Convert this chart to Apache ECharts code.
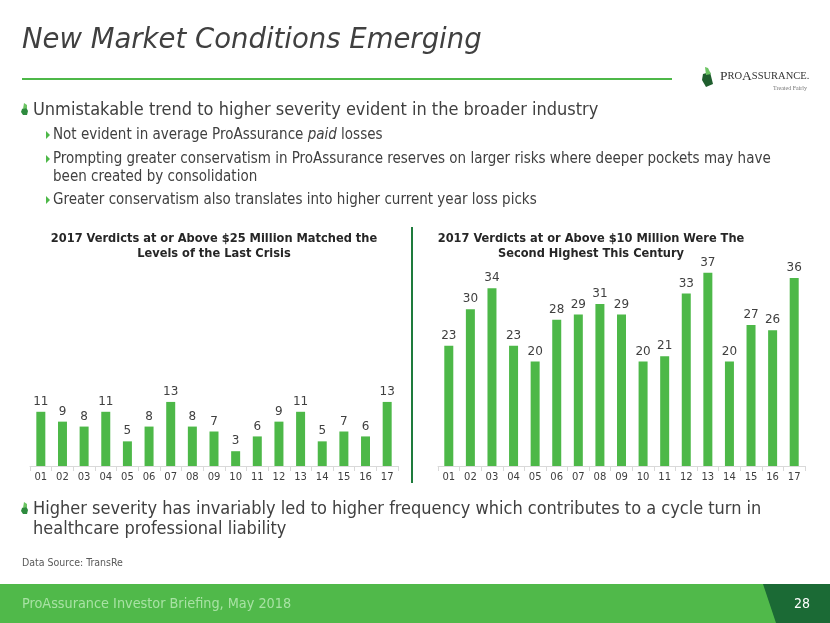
<!DOCTYPE html>
<html>
<head>
<meta charset="utf-8">
<script src="https://cdn.jsdelivr.net/npm/echarts@6/dist/echarts.min.js"></script>
<style>
html,body{margin:0;padding:0;background:#fff;}
#c{width:830px;height:623px;}
</style>
</head>
<body>
<div id="c"></div>
<script>
// ---- data ----
var years = ['01','02','03','04','05','06','07','08','09','10','11','12','13','14','15','16','17'];
var verdicts25M = [11,9,8,11,5,8,13,8,7,3,6,9,11,5,7,6,13];
var verdicts10M = [23,30,34,23,20,28,29,31,29,20,21,33,37,20,27,26,36];
var chartTitles = [
  '2017 Verdicts at or Above $25 Million Matched the\nLevels of the Last Crisis',
  '2017 Verdicts at or Above $10 Million Were The\nSecond Highest This Century'
];

var GREEN = '#4DB848';
var TEXT = '#404040';
var BODY = '"DejaVu Sans Condensed","DejaVu Sans",sans-serif';

var chart = echarts.init(document.getElementById('c'), null, {renderer:'canvas'});

function xAxisFor(i){
  return {
    type:'category', gridIndex:i, data:years,
    axisLine:{lineStyle:{color:'#D9D9D9', width:1}},
    axisTick:{show:true, length:5, lineStyle:{color:'#D9D9D9'}},
    axisLabel:{color:TEXT, fontSize:10, fontFamily:'"DejaVu Sans",sans-serif', margin:6}
  };
}
function yAxisFor(i, max){
  return {type:'value', gridIndex:i, min:0, max:max, show:false, splitLine:{show:false}};
}
function seriesFor(i, data){
  return {
    type:'bar', xAxisIndex:i, yAxisIndex:i, data:data, barWidth:9,
    itemStyle:{color:GREEN},
    label:{show:true, position:'top', distance:4, color:TEXT, fontSize:12, fontFamily:'"DejaVu Sans",sans-serif'}
  };
}

function txt(x, y, text, size, opts){
  opts = opts || {};
  return {
    type:'text', x:x, y:y,
    style:{
      text:text, fill:opts.color||TEXT, fontSize:size,
      fontFamily:opts.font||BODY, fontStyle:opts.italic?'italic':'normal',
      fontWeight:opts.bold?'bold':'normal',
      textAlign:opts.align||'left', textVerticalAlign:'middle'
    },
    z:10
  };
}
function leafBody(cx, cy){
  return {type:'polygon', shape:{points:[[cx-3,cy-1],[cx+1,cy-3],[cx+3,cy+1],[cx+2,cy+5],[cx-2,cy+5],[cx-4,cy+2]]}, style:{fill:'#2E8B3E'}};
}
function leafTip(cx, cy){
  return {type:'polygon', shape:{points:[[cx-1,cy-7],[cx+2,cy-5],[cx+2,cy-2],[cx-2,cy-1]]}, style:{fill:'#6CC463'}};
}

var graphics = [
  // title
  txt(22, 41, 'New Market Conditions Emerging', 27.5, {italic:true, font:'"DejaVu Sans",sans-serif'}),
  // green rule
  {type:'rect', shape:{x:22, y:78, width:650, height:2}, style:{fill:GREEN}},
  // logo mark
  {type:'polygon', shape:{points:[[703,74],[710,72],[713,84],[706,87],[702,80]]}, style:{fill:'#1F5E2E'}},
  {type:'polygon', shape:{points:[[705,67],[708,68],[711,74],[706,75]]}, style:{fill:'#6CC463'}},
  {type:'text', x:720, y:76, style:{
      text:'{b|P}{s|RO}{b|A}{s|SSURANCE.}', textVerticalAlign:'middle',
      rich:{b:{fontSize:13.5, fontFamily:'"Liberation Serif",serif', fill:'#333'},
            s:{fontSize:10.5, fontFamily:'"Liberation Serif",serif', fill:'#333'}}
  }},
  txt(807, 88, 'Treated Fairly', 6, {color:'#777', font:'"Liberation Serif",serif', align:'right'}),
  // bullets
  leafBody(25, 110), leafTip(25, 110),
  txt(33, 110, 'Unmistakable trend to higher severity evident in the broader industry', 18),
  {type:'polygon', shape:{points:[[46,131],[50,135],[46,139]]}, style:{fill:GREEN}},
  {type:'text', x:53, y:135, style:{
      text:'{n|Not evident in average ProAssurance }{i|paid}{n| losses}', textVerticalAlign:'middle',
      rich:{n:{fontSize:15, fontFamily:BODY, fill:TEXT}, i:{fontSize:15, fontFamily:BODY, fontStyle:'italic', fill:TEXT}}
  }},
  {type:'polygon', shape:{points:[[46,155],[50,159],[46,163]]}, style:{fill:GREEN}},
  txt(53, 159, 'Prompting greater conservatism in ProAssurance reserves on larger risks where deeper pockets may have', 15),
  txt(53, 177, 'been created by consolidation', 15),
  {type:'polygon', shape:{points:[[46,196],[50,200],[46,204]]}, style:{fill:GREEN}},
  txt(53, 200, 'Greater conservatism also translates into higher current year loss picks', 15),
  // divider
  {type:'rect', shape:{x:411, y:227, width:2, height:256}, style:{fill:'#1E7B3C'}},
  // bottom bullet
  leafBody(25, 509), leafTip(25, 509),
  txt(33, 509, 'Higher severity has invariably led to higher frequency which contributes to a cycle turn in', 18),
  txt(33, 529, 'healthcare professional liability', 18),
  txt(22, 563, 'Data Source: TransRe', 10.5, {color:'#595959'}),
  // footer
  {type:'rect', shape:{x:0, y:584, width:830, height:39}, style:{fill:'#50B94A'}},
  {type:'polygon', shape:{points:[[763,584],[830,584],[830,623],[776,623]]}, style:{fill:'#1B6A35'}},
  txt(22, 604, 'ProAssurance Investor Briefing, May 2018', 14.3, {color:'#A8E2A4'}),
  txt(802, 604, '28', 14, {color:'#FFFFFF', align:'center'})
];

var option = {
  animation:false,
  backgroundColor:'#fff',
  title:[
    {text:chartTitles[0], left:209, top:226, textAlign:'center',
     textStyle:{fontSize:12.7, fontWeight:'bold', color:'#262626', fontFamily:BODY, lineHeight:15}},
    {text:chartTitles[1], left:586, top:226, textAlign:'center',
     textStyle:{fontSize:12.7, fontWeight:'bold', color:'#262626', fontFamily:BODY, lineHeight:15}}
  ],
  grid:[
    {left:30, width:368, top:397, height:69},
    {left:438, width:367, top:257, height:209}
  ],
  xAxis:[xAxisFor(0), xAxisFor(1)],
  yAxis:[yAxisFor(0,14), yAxisFor(1,40)],
  series:[seriesFor(0, verdicts25M), seriesFor(1, verdicts10M)],
  graphic:graphics
};
chart.setOption(option);
</script>
</body>
</html>
